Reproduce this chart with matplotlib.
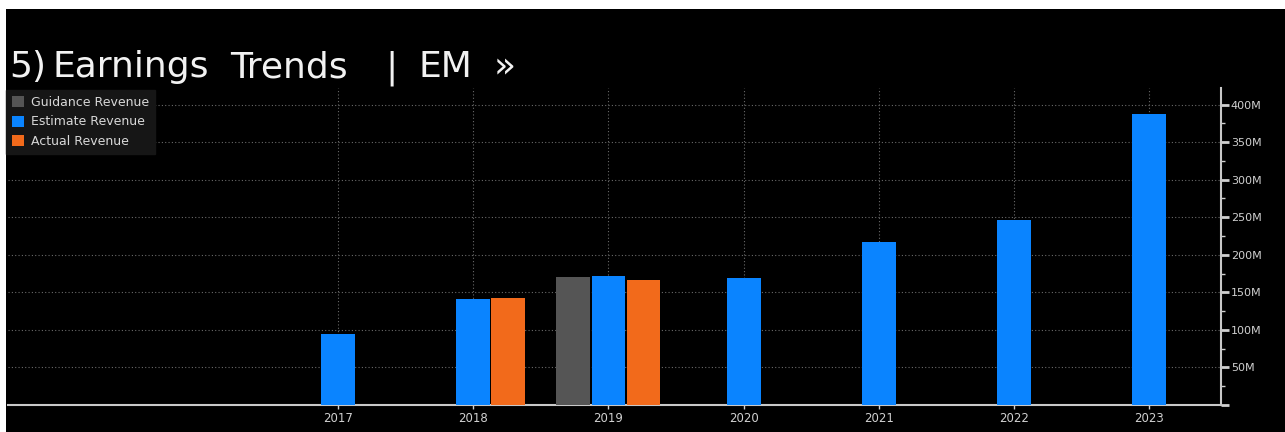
import matplotlib.pyplot as plt
import numpy as np
from matplotlib.patches import Rectangle
from matplotlib.ticker import MultipleLocator, FuncFormatter

# data (revenue in millions)
years = ['2017', '2018', '2019', '2020', '2021', '2022', '2023']
guidance = [np.nan, np.nan, 171, np.nan, np.nan, np.nan, np.nan]
estimate = [94, 141, 172, 169, 217, 246, 388]
actual = [np.nan, 143, 167, np.nan, np.nan, np.nan, np.nan]

title_words = ['5)', 'Earnings', 'Trends', '|', 'EM', '\u00bb']
title_x = [9, 53, 230, 385, 418, 494]  # left edge of each word, px

W, H = 1285, 432
fig = plt.figure(figsize=(W / 100, H / 100), dpi=100, facecolor='white')

# black terminal background (thin white strip at top and left like the screenshot)
fig.patches.append(Rectangle((6 / W, 0), 1, (H - 9) / H, transform=fig.transFigure,
                             facecolor='black', edgecolor='none', zorder=-10))

ax = fig.add_axes([8 / W, (H - 405) / H, (1221 - 8) / W, (405 - 88) / H])
ax.set_facecolor('black')

x = np.arange(len(years))
w = 0.25
gap = 0.26
ax.bar(x - gap, guidance, w, color='#555555', label='Guidance Revenue', zorder=3)
ax.bar(x, estimate, w, color='#0a84ff', label='Estimate Revenue', zorder=3)
ax.bar(x + gap, actual, w, color='#f26a1b', label='Actual Revenue', zorder=3)

ax.set_xlim(-2.44, 6.53)
ax.set_ylim(0, 422)

# axes look
for s in ['top', 'left']:
    ax.spines[s].set_visible(False)
for s in ['bottom', 'right']:
    ax.spines[s].set_color('#c8c8c8')
    ax.spines[s].set_linewidth(1.5)

ax.yaxis.tick_right()
ax.yaxis.set_major_locator(MultipleLocator(50))
ax.yaxis.set_minor_locator(MultipleLocator(25))
ax.yaxis.set_major_formatter(FuncFormatter(lambda v, p: '' if v == 0 else f'{int(v)}M'))
ax.tick_params(axis='y', which='major', colors='#d0d0d0', labelsize=8, length=6, width=2, pad=1)
ax.tick_params(axis='y', which='minor', colors='#d0d0d0', length=3, width=1)

ax.set_xticks(x)
ax.set_xticklabels(years)
ax.tick_params(axis='x', colors='#d0d0d0', labelsize=8.5, length=3, width=1, pad=2)

ax.grid(True, which='major', color='#6a6a6a', linestyle=(0, (1, 2)), linewidth=0.8, zorder=0)

# title, words spaced like the terminal font
for word, px in zip(title_words, title_x):
    fig.text(px / W, (H - 77) / H, word, color='#f2f2f2', fontsize=26,
             ha='left', va='baseline', family='DejaVu Sans')

# legend
leg = ax.legend(loc='upper left', bbox_to_anchor=(-0.002, 0.994), frameon=True,
                fontsize=9, handlelength=1.0, handleheight=1.0, handletextpad=0.5,
                labelspacing=0.5, borderpad=0.5, fancybox=False, borderaxespad=0)
leg.get_frame().set_facecolor('#161616')
leg.get_frame().set_edgecolor('#161616')
leg.get_frame().set_alpha(1)
for t in leg.get_texts():
    t.set_color('#d8d8d8')

fig.savefig('out.png', dpi=100, facecolor=fig.get_facecolor())
